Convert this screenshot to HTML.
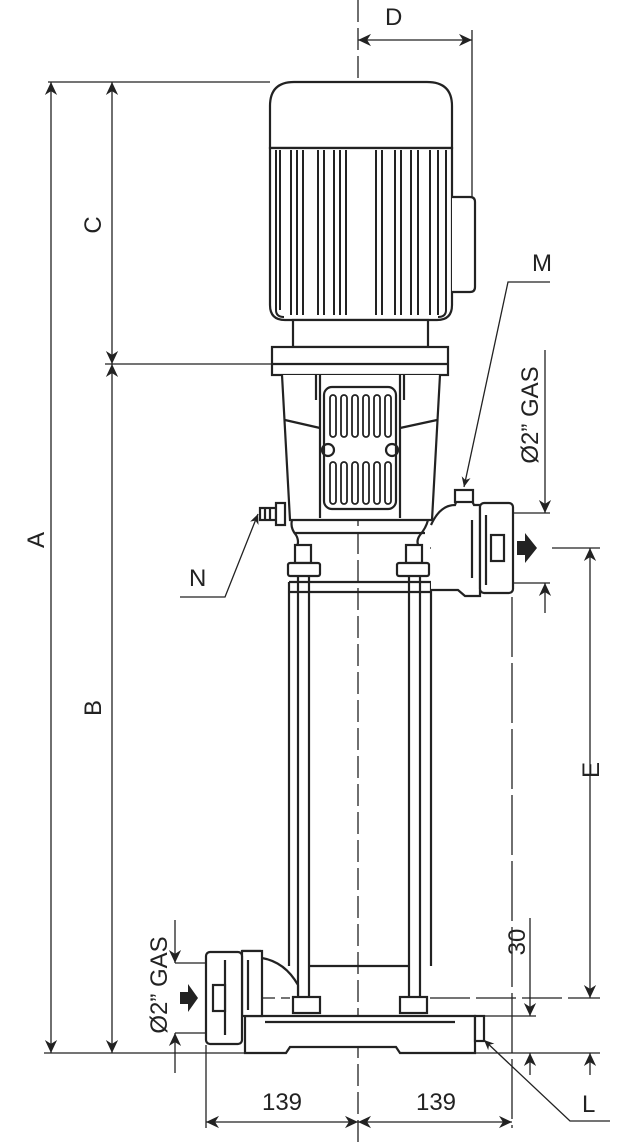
<!DOCTYPE html>
<html><head><meta charset="utf-8"><style>
html,body{margin:0;padding:0;background:#fff;}
svg{display:block;}
text{font-family:"Liberation Sans",sans-serif;fill:#222;}
</style></head><body>
<svg width="643" height="1144" viewBox="0 0 643 1144" xmlns="http://www.w3.org/2000/svg">
<defs>
<marker id="ar" viewBox="0 0 10 10" refX="10" refY="5" markerWidth="14" markerHeight="10" markerUnits="userSpaceOnUse" orient="auto-start-reverse">
<path d="M0,0.5 L10,5 L0,9.5 L3,5 Z" fill="#222"/>
</marker>
<marker id="arl" viewBox="0 0 10 10" refX="10" refY="5" markerWidth="20" markerHeight="13" markerUnits="userSpaceOnUse" orient="auto-start-reverse">
<path d="M0,0.3 L10,5 L0,9.7 L3,5 Z" fill="#222"/>
</marker>
</defs>
<g stroke="#222" fill="none">
<line x1="358" y1="0" x2="358" y2="1144" stroke-width="1.3" stroke-dasharray="22,6"/>

<g stroke-width="1.3">
<line x1="48" y1="82" x2="270" y2="82"/>
<line x1="105" y1="364" x2="271" y2="364"/>
<line x1="44" y1="1053" x2="245" y2="1053"/>
<line x1="51" y1="82" x2="51" y2="1053" marker-start="url(#arl)" marker-end="url(#arl)"/>
<line x1="112" y1="82" x2="112" y2="364" marker-start="url(#arl)" marker-end="url(#arl)"/>
<line x1="112" y1="364" x2="112" y2="1053" marker-start="url(#arl)" marker-end="url(#arl)"/>
<line x1="472" y1="30" x2="472" y2="200"/>
<line x1="358" y1="40" x2="472" y2="40" marker-start="url(#arl)" marker-end="url(#arl)"/>
<line x1="513" y1="513" x2="550" y2="513"/>
<line x1="513" y1="583" x2="550" y2="583"/>
<line x1="545" y1="350" x2="545" y2="513" marker-end="url(#arl)"/>
<line x1="545" y1="613" x2="545" y2="583" marker-end="url(#arl)"/>
<line x1="552" y1="548" x2="600" y2="548"/>
<line x1="590" y1="548" x2="590" y2="998" marker-start="url(#arl)" marker-end="url(#arl)"/>
<line x1="590" y1="1075" x2="590" y2="1053" marker-end="url(#arl)"/>
<line x1="430" y1="998" x2="600" y2="998" stroke-dasharray="40,6"/>
<line x1="475" y1="1016" x2="536" y2="1016"/>
<line x1="475" y1="1053" x2="600" y2="1053"/>
<line x1="530" y1="918" x2="530" y2="1016" marker-end="url(#arl)"/>
<line x1="530" y1="1075" x2="530" y2="1053" marker-end="url(#arl)"/>
<line x1="206" y1="1045" x2="206" y2="1128"/>
<line x1="512" y1="597" x2="512" y2="1128" stroke-dasharray="60,6"/>
<line x1="206" y1="1122" x2="358" y2="1122" marker-start="url(#arl)" marker-end="url(#arl)"/>
<line x1="358" y1="1122" x2="512" y2="1122" marker-start="url(#arl)" marker-end="url(#arl)"/>
<line x1="175" y1="963" x2="206" y2="963"/>
<line x1="175" y1="1033" x2="206" y2="1033"/>
<line x1="175" y1="920" x2="175" y2="963" marker-end="url(#arl)"/>
<line x1="175" y1="1073" x2="175" y2="1033" marker-end="url(#arl)"/>
<line x1="430" y1="548" x2="470" y2="548" stroke-dasharray="12,6"/>
<line x1="245" y1="998" x2="290" y2="998" stroke-dasharray="12,6"/>
<polyline points="550,282 508,282 464,487" marker-end="url(#ar)"/>
<polyline points="180,597 225,597 258,514" marker-end="url(#ar)"/>
<polyline points="610,1121 570,1121 484,1040" marker-end="url(#ar)"/>
</g>

<g stroke-width="2.2">
<path d="M270,148 V106 Q270,82 294,82 H427 Q452,82 452,106 V148 Z" fill="#fff"/>
<path d="M270,148 V305 Q270,320 285,320 H437 Q452,320 452,305 V148 Z" fill="#fff"/>
<g stroke-width="2">
<path d="M276,150 V310 Q276,317 284,317"/>
<path d="M280,150 V310"/>
<path d="M291,150 V315 M297,150 V315 M303,150 V315"/>
<path d="M318,150 V315 M324,150 V315 M334,150 V315"/>
<path d="M340,150 V315 M346,150 V315"/>
<path d="M376,150 V315 M382,150 V315"/>
<path d="M395,150 V315 M401,150 V315 M411,150 V315"/>
<path d="M418,150 V315 M430,150 V315 M438,150 V315"/>
<path d="M446,150 V310 Q446,317 438,317"/>
</g>
<path d="M452,197 H470 Q475,197 475,202 V287 Q475,292 470,292 H452" fill="#fff"/>
<rect x="293" y="320" width="135" height="27" fill="#fff"/>
<rect x="272" y="347" width="176" height="28" fill="#fff"/>
<line x1="272" y1="364" x2="448" y2="364"/>
<path d="M282,375 L290,520 H432 L440,375" fill="#fff"/>
<path d="M320,375 V518 M400,375 V518 M316,375 V400 M404,375 V400"/>
<path d="M285,420 L320,428 M437,420 L400,428"/>
<rect x="324" y="387" width="72" height="122" rx="8" fill="#fff"/>
<g stroke-width="1.8">
<rect x="330" y="395" width="6" height="42" rx="3"/><rect x="341" y="395" width="6" height="42" rx="3"/><rect x="352" y="395" width="6" height="42" rx="3"/><rect x="363" y="395" width="6" height="42" rx="3"/><rect x="374" y="395" width="6" height="42" rx="3"/><rect x="385" y="395" width="6" height="42" rx="3"/>
<rect x="330" y="462" width="6" height="42" rx="3"/><rect x="341" y="462" width="6" height="42" rx="3"/><rect x="352" y="462" width="6" height="42" rx="3"/><rect x="363" y="462" width="6" height="42" rx="3"/><rect x="374" y="462" width="6" height="42" rx="3"/><rect x="385" y="462" width="6" height="42" rx="3"/>
</g>
<circle cx="328" cy="450" r="6"/><circle cx="392" cy="450" r="6"/>
<path d="M292,520 Q290,528 296,535 Q300,542 296,548 M428,520 Q426,528 420,535 Q415,542 420,548"/>
<line x1="295" y1="533" x2="425" y2="533"/>
<rect x="260" y="508" width="16" height="12" fill="#fff"/>
<path d="M265,508 V520 M270,508 V520"/>
<rect x="276" y="503" width="9" height="22" fill="#fff"/>
<rect x="295" y="545" width="16" height="18" fill="#fff"/>
<rect x="406" y="545" width="16" height="18" fill="#fff"/>
<rect x="288" y="563" width="32" height="13" rx="2" fill="#fff"/>
<rect x="397" y="563" width="32" height="13" rx="2" fill="#fff"/>
<path d="M289,582 V966 M431,582 V966 M289,582 H431 M289,592 H431"/>
<path d="M298,576 V998 M309,576 V998 M409,576 V998 M420,576 V998"/>
<line x1="309" y1="966" x2="409" y2="966"/>
<path d="M431,525 Q440,505 455,505 L458,497 H470 L474,505 H480 V596 H465 L458,590 H431" fill="#fff"/>
<rect x="455" y="490" width="18" height="12" fill="#fff"/>
<rect x="480" y="503" width="33" height="90" rx="4" fill="#fff"/>
<path d="M472,520 V578 M486,515 V585"/>
<rect x="491" y="535" width="13" height="26" fill="#fff"/>
<path d="M245,1016 H475 V1053 H400 L396,1047 H290 L286,1053 H245 Z" fill="#fff"/>
<rect x="293" y="997" width="27" height="16" fill="#fff"/>
<rect x="400" y="997" width="27" height="16" fill="#fff"/>
<path d="M265,1022 H455"/>
<rect x="475" y="1016" width="9" height="25" fill="#fff"/>
<path d="M242,951 H260 L262,958 Q285,962 298,985 V997" fill="#fff"/>
<rect x="242" y="951" width="20" height="65" fill="#fff"/>
<rect x="206" y="952" width="36" height="92" rx="4" fill="#fff"/>
<path d="M225,960 V1035 M248,960 V1010"/>
<rect x="213" y="985" width="12" height="26" fill="#fff"/>
</g>
<path d="M180,992 H188 V984 L198,998 L188,1012 V1004 H180 Z" fill="#222" stroke="none"/>
<path d="M517,541 H525 V533 L537,548 L525,563 V555 H517 Z" fill="#222" stroke="none"/>
</g>

<text x="385" y="25" font-size="24">D</text>
<text x="532" y="271" font-size="24">M</text>
<text x="189" y="586" font-size="24">N</text>
<text x="582" y="1112" font-size="24">L</text>
<text transform="translate(101,225) rotate(-90)" font-size="24" text-anchor="middle">C</text>
<text transform="translate(44,540) rotate(-90)" font-size="24" text-anchor="middle">A</text>
<text transform="translate(101,708) rotate(-90)" font-size="24" text-anchor="middle">B</text>
<text transform="translate(599,770) rotate(-90)" font-size="24" text-anchor="middle">E</text>
<text transform="translate(525,942) rotate(-90)" font-size="24" text-anchor="middle">30</text>
<text transform="translate(538,415) rotate(-90)" font-size="24" text-anchor="middle">Ø2” GAS</text>
<text transform="translate(167,985) rotate(-90)" font-size="24" text-anchor="middle">Ø2” GAS</text>
<text x="282" y="1110" font-size="24" text-anchor="middle">139</text>
<text x="436" y="1110" font-size="24" text-anchor="middle">139</text>
</svg>
</body></html>
